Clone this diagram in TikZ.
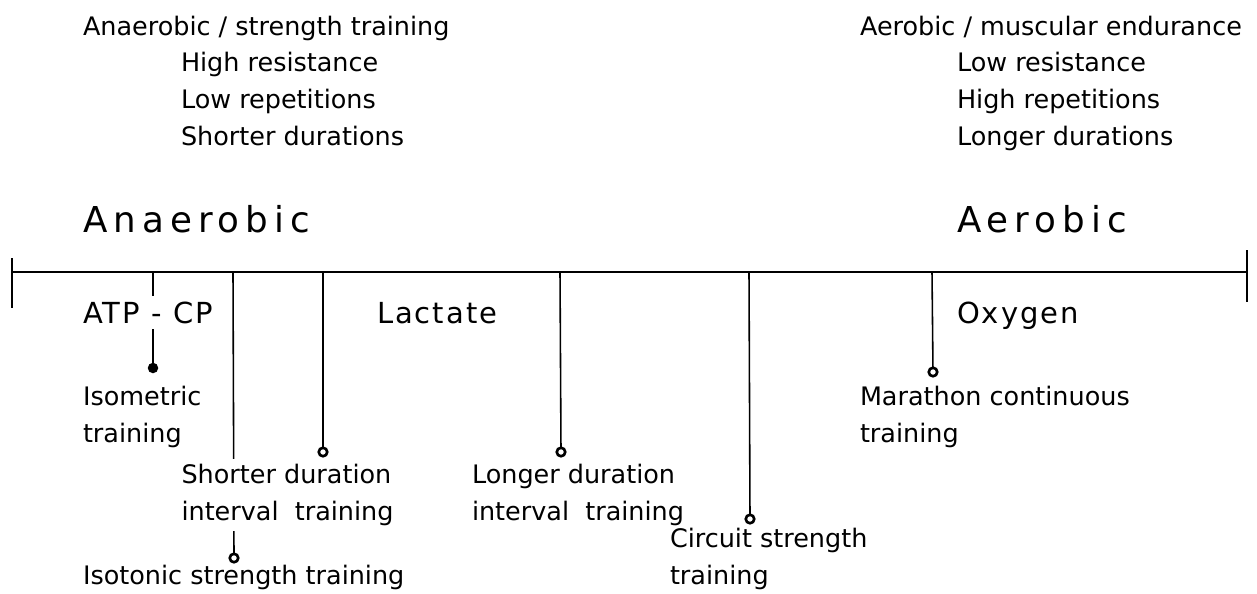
\documentclass[tikz,border=0pt]{standalone}
\usepackage{fontspec}
\setmainfont{DejaVu Sans}
\newfontfamily\bigfont[LetterSpace=17]{DejaVu Sans}
\newfontfamily\midfont[LetterSpace=7]{DejaVu Sans}

\begin{document}
\begin{tikzpicture}[x=0.02cm, y=-0.02cm]
\tikzset{ inner sep=0pt, outer sep=0pt,
  txt/.style={font=\fontsize{14.5}{21}\selectfont, align=left},
  big/.style={font=\bigfont\fontsize{20.3}{24}\selectfont},
  mid/.style={font=\midfont\fontsize{16.5}{20}\selectfont},
  pin/.style={circle, draw, line width=1.5pt, fill=white, minimum size=1.7mm},
  pinfull/.style={circle, fill=black, minimum size=2.1mm},
  link/.style={line width=0.9pt} }

\useasboundingbox (0,0) rectangle (1257,593);
%\draw [lightgray, dashed](0,0) grid [step=50] (1257,593);

% axis
\coordinate (L)  at (12,272);
\coordinate (R)  at (1247,272);
\coordinate (Lt) at (12,258);
\coordinate (Lb) at (12,308);
\coordinate (Rt) at (1247,250);
\coordinate (Rb) at (1247,302);

\draw [line width=1.2pt] (L) -- (R);
\draw [link] (Lt) -- (Lb);
\draw [link] (Rt) -- (Rb);

\coordinate (A1) at (153,272);
\coordinate (A2) at (233,272);
\coordinate (A3) at (323,272);
\coordinate (A4) at (560,272);
\coordinate (A5) at (749,272);
\coordinate (A6) at (932,272);

\node [pinfull] (P1) at (153,368) {};
\node [pin]     (P2) at (234,558) {};
\node [pin]     (P3) at (323,452) {};
\node [pin]     (P4) at (561,452) {};
\node [pin]     (P5) at (750,519) {};
\node [pin]     (P6) at (933,372) {};

\draw [link] (A1) -- (P1);
\draw [link] (A2) -- (P2);
\draw [link] (A3) -- (P3);
\draw [link] (A4) -- (P4);
\draw [link] (A5) -- (P5);
\draw [link] (A6) -- (P6);

% headings
\node [txt, anchor=base west] (Anh) at (83,35) {Anaerobic / strength training};
\node [txt, anchor=north west] (Anl) at (181,52) {High resistance\\Low repetitions\\Shorter durations};
\node [txt, anchor=base west] (Aeh) at (860,35) {Aerobic / muscular endurance};
\node [txt, anchor=north west] (Ael) at (957,52) {Low resistance\\High repetitions\\Longer durations};

\node [big, anchor=base west] (Ana) at (83,232) {Anaerobic};
\node [big, anchor=base west] (Aer) at (957,232) {Aerobic};

\node [mid, anchor=base west, fill=white, inner sep=3pt] (Atp) at (78,323) {ATP - CP};
\node [mid, anchor=base west] (Lac) at (377,323) {Lactate};
\node [mid, anchor=base west] (Oxy) at (957,323) {Oxygen};

% training labels
\node [txt, anchor=north west] (Iso) at (83,386) {Isometric\\training};
\node [txt, anchor=north west, fill=white, inner xsep=2pt, inner ysep=3pt] (Sdi) at (178,459) {Shorter duration\\interval\ \ training};
\node [txt, anchor=base west] (Ist) at (83,584) {Isotonic strength training};
\node [txt, anchor=north west] (Ldi) at (472,464) {Longer duration\\interval\ \ training};
\node [txt, anchor=north west] (Cst) at (670,528) {Circuit strength\\training};
\node [txt, anchor=north west] (Mct) at (860,386) {Marathon continuous\\training};

\end{tikzpicture}
\end{document}
